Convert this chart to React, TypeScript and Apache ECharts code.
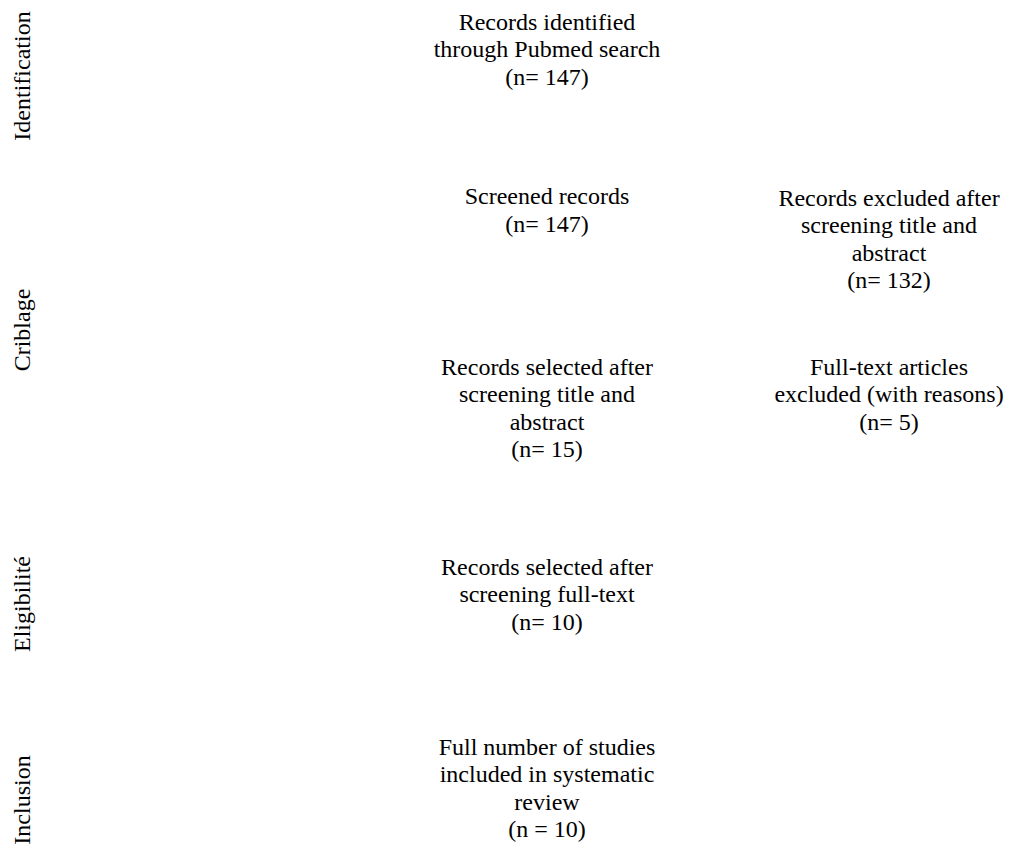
import React, { useEffect, useRef } from "react";
import * as echarts from "echarts";

const stageLabels = ["Identification", "Criblage", "Eligibilité", "Inclusion"];

const mainBoxes = [
  ["Records identified", "through Pubmed search", "(n= 147)"],
  ["Screened records", "(n= 147)"],
  ["Records selected after", "screening title and", "abstract", "(n= 15)"],
  ["Records selected after", "screening full-text", "(n= 10)"],
  ["Full number of studies", "included in systematic", "review", "(n = 10)"],
];

const sideBoxes = [
  ["Records excluded after", "screening title and", "abstract", "(n= 132)"],
  ["Full-text articles", "excluded (with reasons)", "(n= 5)"],
];

export default function App() {
  const ref = useRef<HTMLDivElement>(null);
  useEffect(() => {
    document.body.style.margin = "0";
    const chart = echarts.init(ref.current!, null, { renderer: "svg" });
    const font = "'Liberation Serif', 'Times New Roman', serif";
    const fontSize = 24;
    const lh = 27.5;
    const stageY = [76, 330, 604, 800];
    const mainY = [49, 210, 408, 594, 788];
    const sideY = [239, 394];
    const mainX = 547;
    const sideX = 889;
    const txt = (lines: string[], x: number, y: number, rot = 0) => ({
      type: "text",
      x,
      y,
      rotation: rot,
      style: {
        text: lines.join("\n"),
        fontFamily: font,
        fontSize,
        lineHeight: lh,
        fill: "#000",
        align: "center",
        verticalAlign: "middle",
      },
    });
    const elements: any[] = [];
    stageLabels.forEach((s, i) => elements.push(txt([s], 22, stageY[i], Math.PI / 2)));
    mainBoxes.forEach((b, i) => elements.push(txt(b, mainX, mainY[i])));
    sideBoxes.forEach((b, i) => elements.push(txt(b, sideX, sideY[i])));
    chart.setOption({
      animation: false,
      backgroundColor: "#fff",
      graphic: { elements },
    });
    return () => chart.dispose();
  }, []);
  return <div ref={ref} style={{ width: 1010, height: 849 }} />;
}
